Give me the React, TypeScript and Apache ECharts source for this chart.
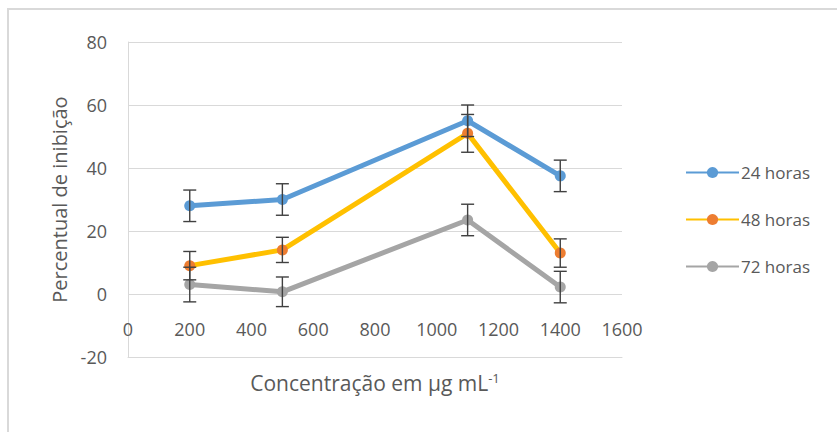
import React, { useEffect, useRef } from "react";
import * as echarts from "echarts";

const concentrations = [200, 500, 1100, 1400];
const seriesNames = ["24 horas", "48 horas", "72 horas"];
const values24 = [28, 30, 55, 37.5];
const values48 = [9, 14, 51, 13];
const values72 = [3, 0.7, 23.5, 2.2];
const err24 = [5, 5, 5, 5];
const err48 = [4.5, 4, 6, 4.5];
const err72 = [5.5, 4.7, 5, 5];
const yTicks = { min: -20, max: 80, interval: 20 };
const xTicks = { min: 0, max: 1600, interval: 200 };

const lineColors = ["#5B9BD5", "#FFC000", "#A5A5A5"];
const markerColors = ["#5B9BD5", "#ED7D31", "#A5A5A5"];
const textColor = "#595959";
const font = "Open Sans";

export default function App() {
  const ref = useRef<HTMLDivElement>(null);
  useEffect(() => {
    if (!ref.current) return;
    const chart = echarts.init(ref.current, null, { renderer: "svg" });
    const allValues = [values24, values48, values72];
    const allErr = [err24, err48, err72];

    const lineSeries = allValues.map((vals, i) => ({
      name: seriesNames[i],
      type: "line",
      data: concentrations.map((c, j) => [c, vals[j]]),
      symbol: "circle",
      symbolSize: 11,
      lineStyle: { color: lineColors[i], width: 5 },
      itemStyle: { color: markerColors[i] },
      z: 2 + (2 - i),
    }));

    const errSeries = allValues.map((vals, i) => ({
      name: seriesNames[i] + " erro",
      type: "custom",
      data: concentrations.map((c, j) => [c, vals[j] - allErr[i][j], vals[j] + allErr[i][j]]),
      z: 10,
      renderItem: (params: any, api: any) => {
        const x = api.value(0);
        const lo = api.coord([x, api.value(1)]);
        const hi = api.coord([x, api.value(2)]);
        const w = 6.5;
        const style = { stroke: "#404040", lineWidth: 1.4 };
        return {
          type: "group",
          children: [
            { type: "line", shape: { x1: lo[0], y1: lo[1], x2: hi[0], y2: hi[1] }, style },
            { type: "line", shape: { x1: lo[0] - w, y1: lo[1], x2: lo[0] + w, y2: lo[1] }, style },
            { type: "line", shape: { x1: hi[0] - w, y1: hi[1], x2: hi[0] + w, y2: hi[1] }, style },
          ],
        };
      },
    }));

    chart.setOption({
      animation: false,
      textStyle: { fontFamily: font },
      graphic: [
        {
          type: "polyline",
          shape: { points: [[8, 432], [8, 9], [837, 9]] },
          style: { stroke: "#D9D9D9", lineWidth: 2, fill: "none" },
          silent: true,
        },
      ],
      grid: { left: 128, right: 215, top: 42, bottom: 75 },
      xAxis: {
        type: "value",
        min: xTicks.min,
        max: xTicks.max,
        interval: xTicks.interval,
        name: "Concentração em μg mL{sup|-1}",
        nameLocation: "middle",
        nameGap: 14,
        nameTextStyle: {
          color: textColor,
          fontSize: 21,
          fontFamily: font,
          rich: { sup: { fontSize: 13, color: textColor, fontFamily: font, verticalAlign: "top", padding: [0, 0, 10, 0] } },
        },
        axisLine: { show: true, onZero: false, lineStyle: { color: "#D9D9D9", width: 1 } },
        axisTick: { show: false },
        splitLine: { show: false },
        axisLabel: {
          inside: true,
          margin: 19,
          color: textColor,
          fontSize: 18,
          fontFamily: font,
          formatter: (v: number) => String(v),
        },
      },
      yAxis: {
        type: "value",
        min: yTicks.min,
        max: yTicks.max,
        interval: yTicks.interval,
        name: "Percentual de inibição",
        nameLocation: "middle",
        nameGap: 56,
        nameRotate: 90,
        nameTextStyle: { color: textColor, fontSize: 20, fontFamily: font },
        axisLine: { show: true, lineStyle: { color: "#D9D9D9", width: 1 } },
        axisTick: { show: false },
        splitLine: { show: true, lineStyle: { color: "#D9D9D9", width: 1 } },
        axisLabel: { margin: 21, color: textColor, fontSize: 18, fontFamily: font },
      },
      legend: {
        data: seriesNames,
        orient: "vertical",
        left: 680,
        top: 159,
        itemWidth: 53,
        itemHeight: 14,
        itemGap: 30,
        textStyle: { color: textColor, fontSize: 17, fontFamily: font, padding: [0, 0, 0, -3] },
      },
      series: [...lineSeries, ...errSeries],
    });
    return () => chart.dispose();
  }, []);
  return (
    <div
      ref={ref}
      style={{ position: "fixed", left: 0, top: 0, width: 837, height: 432, background: "#fff" }}
    />
  );
}
